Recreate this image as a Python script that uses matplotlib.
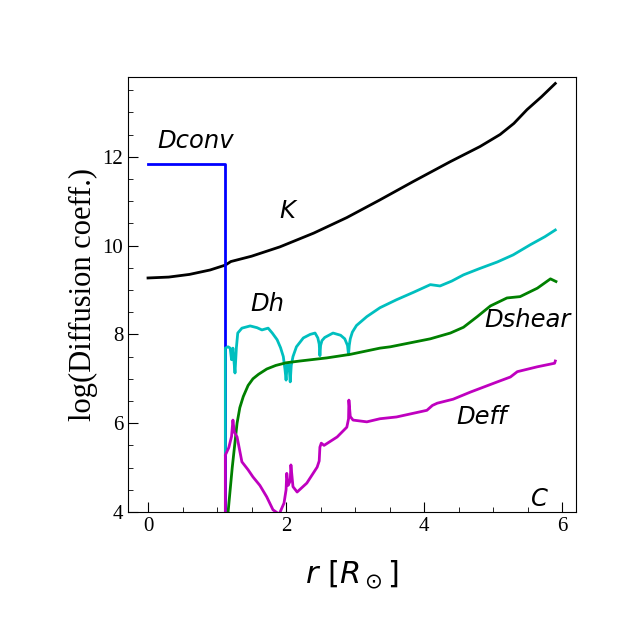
import numpy as np
import matplotlib
matplotlib.use("Agg")
import matplotlib.pyplot as plt
from matplotlib.ticker import MultipleLocator

plt.rcParams['font.family'] = 'serif'
plt.rcParams['font.serif'] = ['Liberation Serif', 'DejaVu Serif']
plt.rcParams['mathtext.fontset'] = 'dejavusans'

# --- data ---
k_r = [0, 0.3, 0.6, 0.9, 1.12, 1.2, 1.5, 1.91, 2.4, 2.88, 3.35, 3.84, 4.38,
       4.81, 5.1, 5.3, 5.49, 5.7, 5.9]
k_val = [9.27, 9.29, 9.35, 9.45, 9.56, 9.64, 9.76, 9.97, 10.28, 10.63, 11.02,
         11.44, 11.89, 12.23, 12.5, 12.75, 13.06, 13.35, 13.65]

dconv_r = [0, 1.12, 1.12]
dconv_val = [11.83, 11.83, 3.0]

dh_r = [1.12, 1.12, 1.16, 1.19, 1.21, 1.23, 1.245, 1.26, 1.28, 1.30, 1.36,
        1.48, 1.58, 1.65, 1.74, 1.80, 1.87, 1.92, 1.96, 1.985, 2.0, 2.015,
        2.03, 2.045, 2.06, 2.075, 2.10, 2.15, 2.25, 2.35, 2.42, 2.46, 2.48,
        2.49, 2.50, 2.52, 2.56, 2.68, 2.79, 2.85, 2.89, 2.905, 2.915, 2.93,
        2.96, 3.02, 3.17, 3.36, 3.6, 3.85, 4.09, 4.23, 4.4, 4.57, 4.8, 5.06,
        5.29, 5.54, 5.75, 5.9]
dh_val = [5.3, 7.69, 7.72, 7.69, 7.43, 7.69, 7.4, 7.13, 7.7, 8.03, 8.14,
          8.19, 8.15, 8.10, 8.14, 8.03, 7.88, 7.7, 7.5, 7.2, 6.97, 7.3, 7.35,
          7.25, 6.93, 7.3, 7.5, 7.72, 7.92, 8.0, 8.03, 7.92, 7.78, 7.52, 7.75,
          7.86, 7.93, 8.03, 7.98, 7.9, 7.75, 7.54, 7.75, 7.9, 8.05, 8.2, 8.4,
          8.6, 8.78, 8.95, 9.12, 9.09, 9.2, 9.34, 9.48, 9.63, 9.79, 10.02,
          10.2, 10.35]

dshear_r = [1.16, 1.22, 1.29, 1.33, 1.38, 1.45, 1.52, 1.6, 1.72, 1.85, 2.0,
            2.2, 2.59, 2.93, 3.36, 3.51, 3.8, 4.09, 4.38, 4.57, 4.77, 4.96,
            5.2, 5.39, 5.64, 5.83, 5.91]
dshear_val = [4.0, 5.0, 6.0, 6.35, 6.6, 6.85, 7.0, 7.1, 7.22, 7.3, 7.36,
              7.4, 7.47, 7.55, 7.69, 7.72, 7.81, 7.9, 8.03, 8.16, 8.4, 8.64,
              8.82, 8.85, 9.04, 9.25, 9.19]

deff_r = [1.12, 1.12, 1.17, 1.21, 1.23, 1.25, 1.29, 1.36, 1.45, 1.52, 1.62,
          1.72, 1.81, 1.9, 1.97, 2.0, 2.01, 2.03, 2.06, 2.07, 2.1, 2.16, 2.3,
          2.45, 2.48, 2.49, 2.51, 2.55, 2.74, 2.88, 2.905, 2.91, 2.93, 2.97,
          3.17, 3.36, 3.6, 4.04, 4.12, 4.19, 4.42, 4.67, 5.06, 5.25, 5.35,
          5.64, 5.89, 5.9]
deff_val = [3.0, 5.28, 5.45, 5.7, 6.07, 5.8, 5.69, 5.13, 4.95, 4.79, 4.6,
            4.34, 4.05, 3.95, 4.2, 4.5, 4.87, 4.6, 4.7, 5.06, 4.57, 4.45,
            4.65, 5.01, 5.15, 5.46, 5.55, 5.5, 5.69, 5.91, 6.1, 6.52, 6.15,
            6.07, 6.03, 6.1, 6.14, 6.29, 6.4, 6.45, 6.54, 6.7, 6.93, 7.04,
            7.16, 7.27, 7.35, 7.4]

labels = [("Dconv", 0.13, 12.35), ("K", 1.9, 10.78), ("Dh", 1.48, 8.69),
          ("Dshear", 4.87, 8.33), ("Deff", 4.47, 6.14), ("C", 5.55, 4.3)]

fig = plt.figure(figsize=(6.4, 6.4), dpi=100)
ax = fig.add_subplot(111)
fig.subplots_adjust(left=0.2, right=0.9, bottom=0.2, top=0.88)

ax.plot(k_r, k_val, '-', color='k', lw=2)
ax.plot(dconv_r, dconv_val, '-', color='b', lw=2)
ax.plot(dh_r, dh_val, '-', color='c', lw=2)
ax.plot(dshear_r, dshear_val, '-', color='g', lw=2)
ax.plot(deff_r, deff_val, '-', color='m', lw=2)

for txt, x, y in labels:
    ax.text(x, y, txt, family='DejaVu Sans', style='italic', fontsize=17.5,
            va='center', ha='left')

ax.set_xlim(-0.29, 6.2)
ax.set_ylim(4, 13.8)
ax.xaxis.set_major_locator(MultipleLocator(2))
ax.xaxis.set_minor_locator(MultipleLocator(0.5))
ax.yaxis.set_major_locator(MultipleLocator(2))
ax.yaxis.set_minor_locator(MultipleLocator(0.5))
ax.tick_params(which='both', direction='in', top=False, right=False,
               labelsize=15)
ax.tick_params(which='major', length=7)
ax.tick_params(which='minor', length=3.5)

ax.set_xlabel(r'$r\ [R_\odot]$', fontsize=22, labelpad=16)
ax.set_ylabel('log(Diffusion coeff.)', fontsize=22, labelpad=3)

fig.savefig('out.png', dpi=100)
